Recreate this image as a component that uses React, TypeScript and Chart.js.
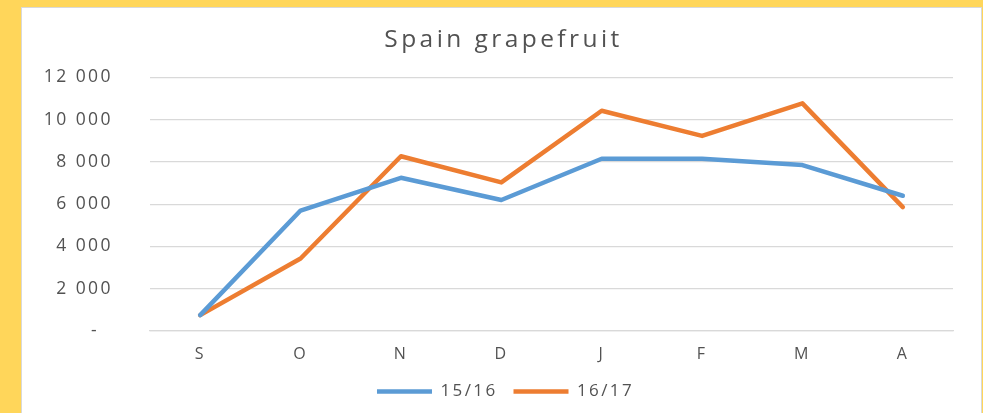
import React, { useEffect, useRef } from "react";
import { Chart, registerables } from "chart.js";

Chart.register(...registerables);

const months = ["S", "O", "N", "D", "J", "F", "M", "A"];
const season1516 = [750, 5700, 7250, 6200, 8150, 8150, 7850, 6400];
const season1617 = [750, 3430, 8270, 7030, 10420, 9230, 10770, 5860];
const seriesLabels = ["15/16", "16/17"];
const chartTitle = "Spain grapefruit";

const TEXT = "#525252";
const GRID = "#D9D9D9";
const BLUE = "#5B9BD5";
const ORANGE = "#ED7D31";
const FONT = "'Open Sans', 'Liberation Sans', sans-serif";

const spacingPlugin = {
  id: "letterSpacingPatch",
  beforeInit(chart: any) {
    const ctx: any = chart.ctx;
    if (ctx.__patched) return;
    ctx.__patched = true;
    const origFill = ctx.fillText.bind(ctx);
    const origMeasure = ctx.measureText.bind(ctx);
    const setLS = () => {
      const m = /(\d+(?:\.\d+)?)px/.exec(ctx.font);
      const size = m ? parseFloat(m[1]) : 12;
      ctx.letterSpacing = (size * 0.14).toFixed(2) + "px";
    };
    ctx.fillText = (t: string, x: number, y: number, w?: number) => {
      setLS();
      if (w === undefined) origFill(t, x, y);
      else origFill(t, x, y, w);
    };
    ctx.measureText = (t: string) => {
      setLS();
      return origMeasure(t);
    };
  },
  afterLayout(chart: any) {
    if (chart.titleBlock) {
      chart.titleBlock.left = 0;
      chart.titleBlock.right = chart.width + 4;
    }
    if (chart.legend) {
      chart.legend.left = 0;
      chart.legend.right = chart.width + 8;
    }
  },
};

const fmt = (v: number) =>
  v === 0 ? "-  " : String(v).replace(/\B(?=(\d{3})+(?!\d))/g, " ");

export default function App() {
  const ref = useRef<HTMLCanvasElement | null>(null);

  useEffect(() => {
    if (!ref.current) return;
    const chart = new Chart(ref.current, {
      type: "line",
      data: {
        labels: months,
        datasets: [
          {
            label: seriesLabels[0],
            data: season1516,
            borderColor: BLUE,
            backgroundColor: BLUE,
            borderWidth: 4.5,
            pointRadius: 0,
            borderJoinStyle: "round",
            borderCapStyle: "round",
            tension: 0,
          },
          {
            label: seriesLabels[1],
            data: season1617,
            borderColor: ORANGE,
            backgroundColor: ORANGE,
            borderWidth: 4.5,
            pointRadius: 0,
            borderJoinStyle: "round",
            borderCapStyle: "round",
            tension: 0,
          },
        ],
      },
      plugins: [spacingPlugin],
      options: {
        animation: false,
        responsive: false,
        maintainAspectRatio: false,
        layout: { padding: { left: 0, right: 28, top: 0, bottom: 3 } },
        plugins: {
          title: {
            display: true,
            text: chartTitle,
            color: TEXT,
            font: { family: FONT, size: 24.5, weight: "normal", lineHeight: 1.2 },
            padding: { top: 17, bottom: 23 },
          },
          legend: {
            display: true,
            position: "bottom",
            labels: {
              color: TEXT,
              font: { family: FONT, size: 17 },
              usePointStyle: true,
              pointStyle: "line",
              pointStyleWidth: 55,
              padding: 16,
            },
          },
          tooltip: { enabled: false },
        },
        scales: {
          x: {
            offset: true,
            grid: { display: false, drawTicks: false },
            border: { display: true, color: GRID, width: 1.3 },
            ticks: {
              color: TEXT,
              font: { family: FONT, size: 16 },
              padding: 14,
              maxRotation: 0,
            },
            afterFit(scale: any) {
              scale.height = 36;
            },
          },
          y: {
            min: 0,
            max: 12000,
            grid: { color: GRID, lineWidth: 1.3, drawTicks: false },
            border: { display: false },
            ticks: {
              stepSize: 2000,
              color: TEXT,
              font: { family: FONT, size: 17.5 },
              padding: 37,
              callback: (v: any) => fmt(Number(v)),
            },
            afterFit(scale: any) {
              scale.width = 128;
            },
          },
        },
      },
    });
    return () => chart.destroy();
  }, []);

  return (
    <div
      style={{
        position: "fixed",
        left: 0,
        top: 0,
        width: 983,
        height: 413,
        background: "#FFD65A",
        overflow: "hidden",
      }}
    >
      <div
        style={{
          position: "absolute",
          left: 21,
          top: 7,
          width: 961,
          height: 406,
          background: "#FFFFFF",
          borderLeft: "1px solid #D9D9D9",
          borderTop: "1px solid #D9D9D9",
          borderRight: "1px solid #D9D9D9",
          boxSizing: "border-box",
        }}
      >
        <canvas
          ref={ref}
          width={959}
          height={405}
          style={{ position: "absolute", left: 0, top: 0, width: 959, height: 405 }}
        />
      </div>
    </div>
  );
}
